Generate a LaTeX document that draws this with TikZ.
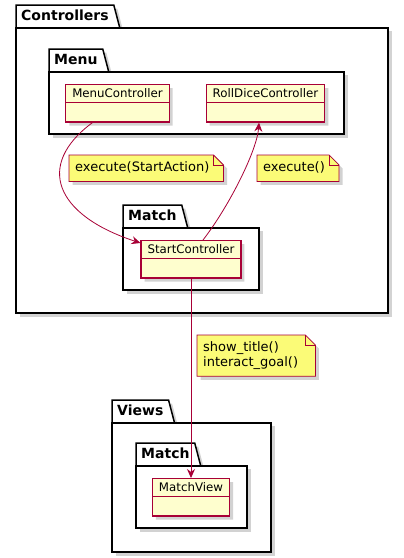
\documentclass[tikz,border=0pt]{standalone}
\usepackage{fontspec}
\setmainfont{DejaVu Sans}
\usetikzlibrary{arrows.meta,shadows,shapes.multipart}
\definecolor{umlred}{HTML}{A80036}
\definecolor{classbg}{HTML}{FEFECE}
\definecolor{notebg}{HTML}{FBFB77}
\pgfdeclarelayer{pkg}
\pgfdeclarelayer{notes}
\pgfsetlayers{pkg,notes,main}
\tikzset{>={Stealth[length=9pt,width=8pt,inset=3pt]}}
\tikzset{softshadow/.style={drop shadow={shadow xshift=3.5pt,shadow yshift=-3.5pt,opacity=.35}}}
\tikzset{pkgname/.style={anchor=north west,font=\fontsize{14}{16}\selectfont\bfseries,inner xsep=5pt,inner ysep=4.5pt,text height=10.5pt,text depth=3pt}}
\tikzset{pkgline/.style={draw=black,line width=1.5pt,fill=white,softshadow}}
\tikzset{cls/.style={rectangle split,rectangle split parts=2,draw=umlred,line width=1.2pt,fill=classbg,softshadow,anchor=north,font=\fontsize{11.8}{14}\selectfont,inner xsep=6.5pt,inner ysep=2pt,execute at begin node={\rule[-2pt]{0pt}{12.5pt}},rectangle split empty part height=14.5pt,rectangle split empty part depth=0pt}}
\tikzset{note/.style={anchor=north west,align=left,font=\fontsize{13}{15}\selectfont,inner xsep=6pt,inner ysep=6.5pt,text height=10pt,text depth=3pt}}
\tikzset{notebox/.style={draw=umlred,line width=.8pt,fill=notebg,softshadow}}
\tikzset{notefold/.style={draw=umlred,line width=.8pt}}
\tikzset{dep/.style={->,draw=umlred,line width=.8pt}}

% package = tab from the name node + body down to #2
\newcommand\drawpkg[2]{%
  \draw[pkgline] (#1.south west) -- (#1.north west) -- (#1.north east) -- ([xshift=6pt]#1.south east) -- cycle;
  \draw[pkgline] (#1.south west) rectangle (#2);
}
% note with folded corner round a node
\newcommand\drawnote[1]{%
  \draw[notebox] (#1.south west) -- (#1.north west) -- ([xshift=-2pt]#1.north east) -- ([xshift=8pt,yshift=-10pt]#1.north east) -- ([xshift=8pt]#1.south east) -- cycle;
  \draw[notefold] ([xshift=-2pt]#1.north east) |- ([xshift=8pt,yshift=-10pt]#1.north east);
}

\begin{document}
\begin{tikzpicture}[x=1pt,y=-1pt]
\useasboundingbox (0,0) rectangle (404,558);

% packages
\node[pkgname] (ctrl) at (16,5) {Controllers};
\node[pkgname] (menupkg) at (49,49) {Menu};
\node[pkgname] (matchpkg) at (123,205) {Match};
\node[pkgname] (views) at (112,400) {Views};
\node[pkgname] (viewmatch) at (136,443) {Match};
\begin{pgfonlayer}{pkg}
\drawpkg{ctrl}{388,313}
\drawpkg{menupkg}{344,134}
\drawpkg{matchpkg}{259,290}
\drawpkg{views}{271,552}
\drawpkg{viewmatch}{247,528}
\end{pgfonlayer}

% classes
\node[cls] (menu) at (117.5,84) {MenuController};
\node[cls] (roll) at (265.5,84) {RollDiceController};
\node[cls] (start) at (191,240) {StartController};
\node[cls] (mview) at (191,478) {MatchView};

% notes
\node[note] (n1) at (69,155) {execute(StartAction)};
\node[note] (n2) at (257,155) {execute()};
\node[note,text height=,text depth=,text width=98pt] (n3) at (197,335) {show\_title()\\interact\_goal()};
\begin{pgfonlayer}{notes}
\drawnote{n1}
\drawnote{n2}
\drawnote{n3}
\end{pgfonlayer}

% dependencies
\draw[dep] ([xshift=-25pt]menu.south) .. controls (35,165) and (55,215) .. ([yshift=-3pt]start.north west);
\draw[dep] ([xshift=12pt]start.north) .. controls (230,205) and (257,150) .. ([xshift=-6.5pt]roll.south);
\draw[dep] (start.south) -- (mview.north);
\end{tikzpicture}
\end{document}
